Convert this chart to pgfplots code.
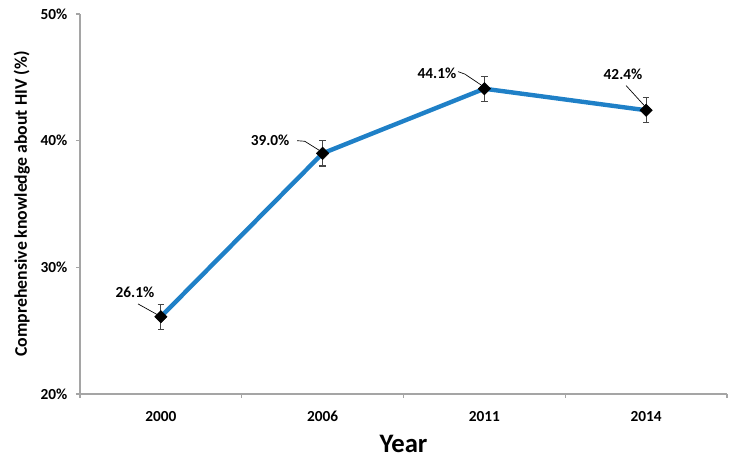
\documentclass[border=0pt]{standalone}
\usepackage{pgfplots}
\pgfplotsset{compat=1.18}
\usepackage{fontspec}
\setmainfont{Carlito}
\usetikzlibrary{calc}
\definecolor{lineblue}{RGB}{31,128,199}
\definecolor{axisgray}{RGB}{165,165,165}
\definecolor{errgray}{RGB}{70,70,70}
\begin{document}
\begin{tikzpicture}
\begin{axis}[
  scale only axis,
  width=485.25pt, height=285pt,
  xmin=-0.5, xmax=3.5, ymin=20, ymax=50,
  axis x line*=bottom, axis y line*=left,
  axis line style={draw=axisgray, line width=0.8pt, -},
  xtick={-0.5,0.5,1.5,2.5,3.5},
  x tick label as interval,
  xticklabels={2000,2006,2011,2014},
  ytick={20,30,40,50},
  yticklabel={\pgfmathprintnumber[assume math mode=true]{\tick}\%},
  tick align=outside, major tick length=3pt,
  tick style={draw=axisgray, line width=0.8pt},
  ticklabel style={font=\bfseries\fontsize{11.5}{13}\selectfont},
  xticklabel style={yshift=-6.5pt},
  yticklabel style={xshift=-3pt},
  xlabel={Year},
  xlabel style={font=\bfseries\fontsize{20}{24}\selectfont, at={(axis description cs:0.5,-0.131)}, anchor=center},
  ylabel={Comprehensive knowledge about HIV (\%)},
  ylabel style={font=\bfseries\fontsize{13.3}{15}\selectfont, at={(axis description cs:-0.09,0.5)}, anchor=center},
  clip=false,
]
\addplot[lineblue, line width=3.3pt] coordinates {(0,26.1) (1,39.0) (2,44.1) (3,42.4)};
\addplot[only marks, mark=square*, mark size=3.3pt, mark options={black, rotate=45},
  error bars/.cd, y dir=both, y explicit,
  error bar style={errgray, line width=0.8pt},
  error mark options={errgray, rotate=90, mark size=2.5pt, line width=0.8pt}]
  coordinates {(0,26.1) +- (0,1.0) (1,39.0) +- (0,1.0) (2,44.1) +- (0,1.0) (3,42.4) +- (0,1.0)};
% data labels with leader lines
\begin{scope}[every node/.style={font=\bfseries\fontsize{11.5}{13}\selectfont}]
\node at (axis cs:-0.16,28.06) {26.1\%};
\node at (axis cs:0.675,40.0) {39.0\%};
\node at (axis cs:1.707,45.3) {44.1\%};
\node at (axis cs:2.857,45.22) {42.4\%};
\end{scope}
\draw[black, line width=0.5pt] (axis cs:-0.141,27.11) -- (axis cs:-0.02,26.25);
\draw[black, line width=0.5pt] (axis cs:0.842,40.0) -- (axis cs:0.89,39.95) -- (axis cs:0.99,39.15);
\draw[black, line width=0.5pt] (axis cs:1.837,45.45) -- (axis cs:1.88,45.25) -- (axis cs:1.985,44.35);
\draw[black, line width=0.5pt] (axis cs:2.876,44.35) -- (axis cs:2.99,42.75);
\end{axis}
\pgfresetboundingbox
\path[use as bounding box] ($(current axis.south west)+(-60pt,-51pt)$) rectangle ($(current axis.north east)+(7.5pt,10.5pt)$);
\end{tikzpicture}
\end{document}
